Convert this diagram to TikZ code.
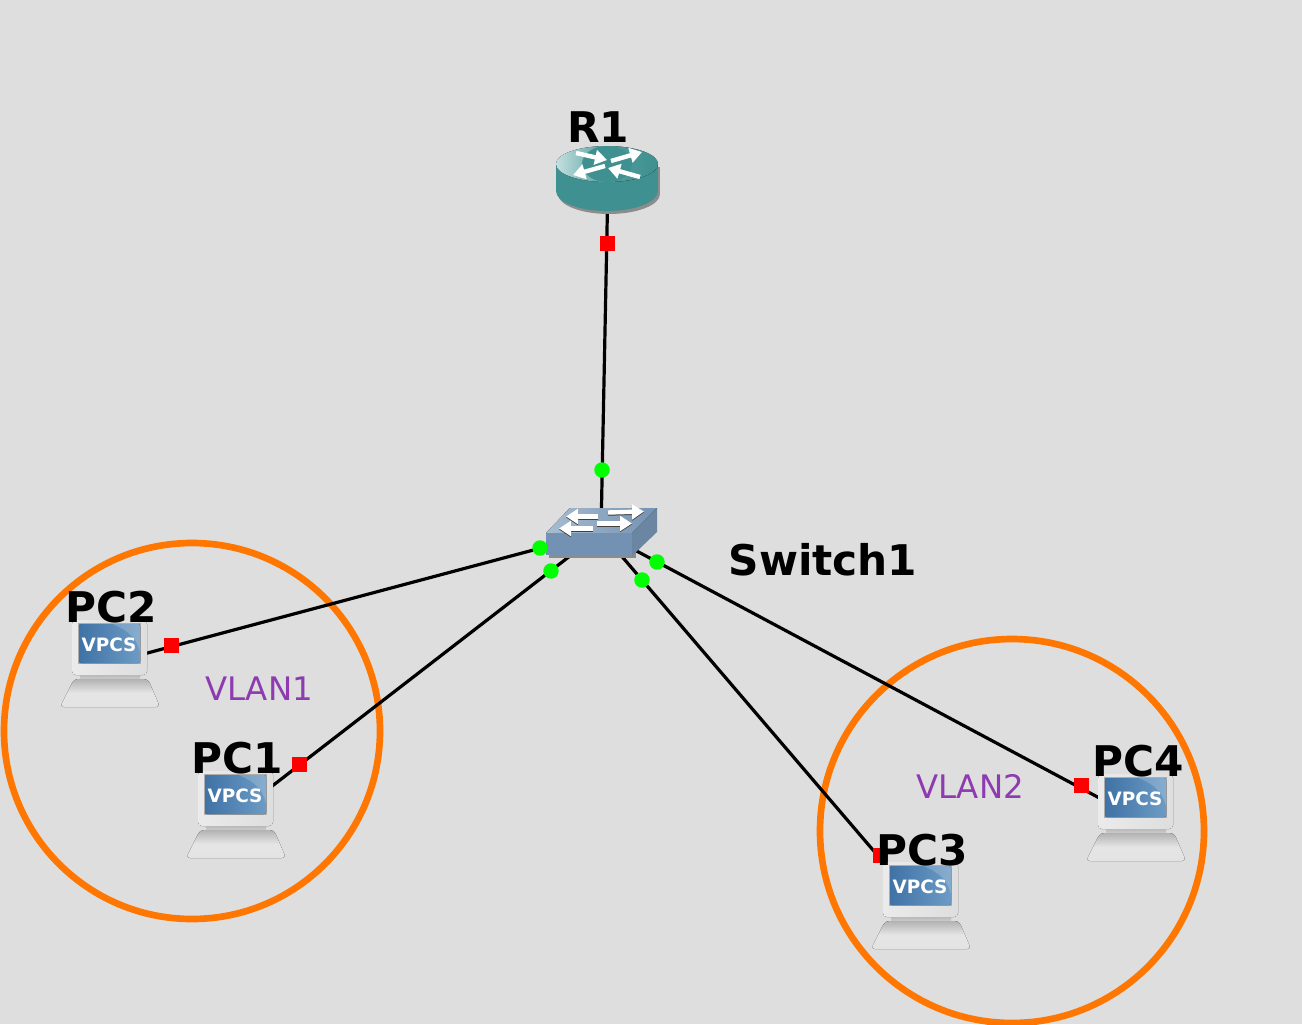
\documentclass[tikz,border=0pt]{standalone}
\usepackage{fontspec}
\setmainfont{DejaVu Sans}
\usetikzlibrary{arrows.meta}
\definecolor{bgc}{HTML}{DEDEDE}
\definecolor{vlanring}{HTML}{FF7700}
\definecolor{vlantxt}{HTML}{8E3AB0}
\definecolor{portred}{HTML}{FF0000}
\definecolor{portgreen}{HTML}{00FF00}
\definecolor{teal1}{HTML}{3F9090}
\definecolor{teal2}{HTML}{C4E0E0}
\definecolor{sw1}{HTML}{7391B2}
\definecolor{sw2}{HTML}{A9BDD0}
\definecolor{sw3}{HTML}{6A86A2}
\definecolor{scr1}{HTML}{3F72A6}
\definecolor{scr2}{HTML}{6D9BC4}
\tikzset{
  link/.style={draw=black,line width=2.4pt},
  redport/.style={fill=portred,draw=none,minimum size=11.25pt,inner sep=0pt,shape=rectangle},
  greenport/.style={fill=portgreen,draw=none,minimum size=11.6pt,inner sep=0pt,shape=circle},
  devlabel/.style={font=\fontsize{31.7}{36}\selectfont\bfseries,inner sep=0pt,text=black},
  vlanlabel/.style={font=\fontsize{24.3}{28}\selectfont,inner sep=0pt,text=vlantxt},
  ring/.style={draw=vlanring,line width=5pt},
  whitearrow/.style={draw=white,line width=3.3pt,-{Triangle[length=9pt,width=11pt,fill=white]}},
  darkarrow/.style={draw=black!75,line width=3.3pt,-{Triangle[length=9pt,width=11pt,fill=black!75]}},
  vpcs/.pic={
    \coordinate (-c) at (0,0);
    \fill[left color=black!8,right color=black!13,rounded corners=3pt] (-38,-43) rectangle (37,12);
    \fill[top color=black!27,bottom color=black!17] (-30,12) rectangle (30,18);
    \fill[top color=black!30,bottom color=black!11,middle color=black!10,rounded corners=3pt]
      (-36,16) -- (38,16) -- (50,44) -- (-50,44) -- cycle;
    \fill[black!32] (-32,-40.5) rectangle (31,1);
    \fill[left color=scr1,right color=scr2,rounded corners=1.5pt] (-31,-39) rectangle (30,0);
    \fill[white,opacity=.18,rounded corners=1.5pt] (2,-39) -- (30,-39) -- (30,-10) .. controls (27,-24) and (18,-33) .. cycle;
    \node[font=\fontsize{13.8}{16}\selectfont\bfseries,text=white,inner sep=0pt] (-lbl) at (-1,-18) {VPCS};
  }
}
\begin{document}
\begin{tikzpicture}[x=0.75pt,y=-0.75pt]
\useasboundingbox (0,0) rectangle (1302,1024);
\fill[bgc] (0,0) rectangle (1302,1024);
% connector end points
\coordinate (r1) at (608,180);
\coordinate (sw) at (601,532);
\coordinate (pc2pos) at (110,663);
\coordinate (pc1pos) at (236,814);
\coordinate (pc3pos) at (920,905);
\coordinate (pc4pos) at (1135,817);
% rings
\node[ring,shape=circle,minimum size=282pt,inner sep=0pt] (vlan1ring) at (192,731) {};
\node[ring,shape=circle,minimum size=288pt,inner sep=0pt] (vlan2ring) at (1012,831) {};
% links
\draw[link] (r1) -- (sw);
\draw[link] (pc2pos) -- (sw);
\draw[link] (pc1pos) -- (sw);
\draw[link] (pc3pos) -- (sw);
\draw[link] (pc4pos) -- (sw);
% router
\begin{scope}[shift={(2,3)}]
  \fill[black!45] (607,191) ellipse [x radius=51,y radius=20];
  \fill[black!45] (556,164) rectangle (658,191);
\end{scope}
\fill[teal1] (607,191) ellipse [x radius=51,y radius=20];
\fill[teal1] (556,164) rectangle (658,191);
\fill[left color=teal2,right color=teal1,middle color=teal1!85!teal2] (607,164) ellipse [x radius=51,y radius=18];
\fill[teal1] (607,164) ellipse [x radius=25,y radius=18];
\draw[whitearrow] (576,153) -- (607,160);
\draw[whitearrow] (611,161) -- (642,152);
\draw[whitearrow] (605,166) -- (573,175);
\draw[whitearrow] (640,177) -- (608,168);
\node[devlabel] (r1lbl) at (598,127) {R1};
% switch
\fill[black!45] (549,537) rectangle (636,558);
\fill[sw3] (632,533) -- (657,508) -- (657,532) -- (632,556) -- cycle;
\fill[left color=sw2,right color=sw1] (546,533) -- (570,508) -- (657,508) -- (632,533) -- cycle;
\fill[sw1] (546,533) rectangle (632,555);
\draw[darkarrow] (608,513.5) -- (644,512.5);
\draw[darkarrow] (598,517.5) -- (566,517.5);
\draw[darkarrow] (597,524.5) -- (632,524.5);
\draw[darkarrow] (593,529.5) -- (559,529.5);
\draw[whitearrow] (608,512.5) -- (644,511.5);
\draw[whitearrow] (598,516.5) -- (566,516.5);
\draw[whitearrow] (597,523.5) -- (632,523.5);
\draw[whitearrow] (593,528.5) -- (559,528.5);
\node[devlabel] (swlbl) at (823,559.5) {Switch1};
% red ports
\node[redport] (pr) at (607,243) {};
\node[redport] (p2) at (171,645) {};
\node[redport] (p1) at (299,764) {};
\node[redport] (p3) at (880,855) {};
\node[redport] (p4) at (1081,785) {};
% green ports
\node[greenport] (gr) at (602,470) {};
\node[greenport] (g2) at (540,548) {};
\node[greenport] (g1) at (551,571) {};
\node[greenport] (g3) at (642,580) {};
\node[greenport] (g4) at (657,562) {};
% PCs
\pic (pc2) at (pc2pos) {vpcs};
\pic (pc1) at (236,814) {vpcs};
\pic (pc3) at (921,905) {vpcs};
\pic (pc4) at (1136,817) {vpcs};
\node[devlabel] (pc2lbl) at (111,607) {PC2};
\node[devlabel] (pc1lbl) at (237,758.5) {PC1};
\node[devlabel] (pc3lbl) at (922,850) {PC3};
\node[devlabel] (pc4lbl) at (1138,761.5) {PC4};
\node[vlanlabel] (v1) at (259,689) {VLAN1};
\node[vlanlabel] (v2) at (970,786) {VLAN2};
\end{tikzpicture}
\end{document}
